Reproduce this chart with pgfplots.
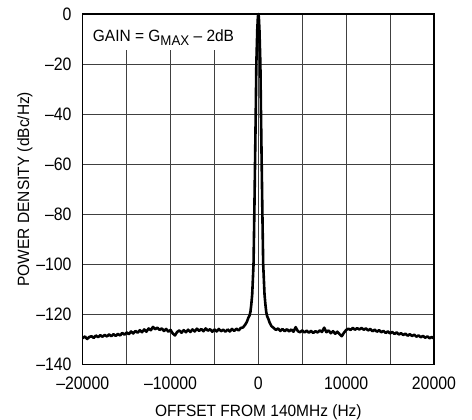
\documentclass[border=0pt]{standalone}
\usepackage{fontspec}
\setmainfont{Liberation Sans}[FakeStretch=0.95]
\newfontfamily\tickfont{Liberation Sans}[FakeStretch=0.88]
\usepackage{pgfplots}
\pgfplotsset{compat=1.18}

\begin{document}
\fontsize{16.3}{19}\selectfont
\begin{tikzpicture}
\path[use as bounding box] (-82.7pt,-55pt) rectangle (389pt,364pt);
\begin{axis}[
    scale only axis,
    width=351pt, height=350pt,
    xmin=-20000, xmax=20000,
    ymin=-140, ymax=0,
    xtick={-20000,-15000,...,20000},
    xticklabels={–20000,,–10000,,0,,10000,,20000},
    ytick={-140,-120,...,0},
    yticklabels={–140,–120,–100,–80,–60,–40,–20,0},
    scaled x ticks=false,
    major tick length=0pt,
    grid=major,
    major grid style={black!75, line width=0.9pt},
    axis line style={black, line width=1.2pt},
    ticklabel style={font=\tickfont\fontsize{18}{20}\selectfont},
    xticklabel style={anchor=base, inner sep=0pt, yshift=-25pt},
    yticklabel style={anchor=east, inner sep=0pt, xshift=-11pt},
    xlabel={OFFSET FROM 140MHz (Hz)},
    ylabel={POWER DENSITY (dBc/Hz)},
    xlabel style={at={(axis description cs:0.5,-0.1506)}, anchor=base, inner sep=0pt},
    ylabel style={at={(axis description cs:-0.1524,0.5)}, anchor=base, inner sep=0pt},
    clip=false,
]
\addplot[black, line width=2.6pt, line join=round] coordinates {
(-20000,-129.6) (-19750,-128.9) (-19500,-129.9) (-19250,-129.1) (-19000,-128.8)
(-18750,-129.5) (-18500,-128.5) (-18250,-129.2) (-18000,-128.4) (-17750,-129.0)
(-17500,-128.3) (-17250,-128.9) (-17000,-128.1) (-16750,-128.8) (-16500,-128.0)
(-16250,-128.7) (-16000,-127.9) (-15750,-128.5) (-15500,-127.5) (-15250,-128.2)
(-15000,-127.3) (-14750,-128.0) (-14500,-126.9) (-14250,-127.7) (-14000,-126.7)
(-13750,-127.4) (-13500,-126.4) (-13250,-127.2) (-13000,-126.1) (-12750,-127.0)
(-12500,-125.7) (-12250,-126.4) (-12000,-125.1) (-11750,-126.0) (-11500,-125.4)
(-11250,-126.3) (-11000,-125.7) (-10750,-126.7) (-10500,-125.9) (-10250,-127.0)
(-10000,-126.3) (-9750,-127.7) (-9500,-128.5) (-9250,-127.1) (-9000,-126.5)
(-8750,-127.4) (-8500,-126.4) (-8250,-127.2) (-8000,-126.2) (-7750,-127.1)
(-7500,-126.1) (-7250,-126.9) (-7000,-125.8) (-6750,-126.7) (-6500,-125.9)
(-6250,-126.8) (-6000,-125.7) (-5750,-126.6) (-5500,-126.0) (-5250,-127.0)
(-5000,-126.1) (-4750,-126.9) (-4500,-125.9) (-4250,-126.8) (-4000,-126.2)
(-3750,-127.0) (-3500,-126.1) (-3250,-126.9) (-3000,-125.9) (-2750,-126.7)
(-2500,-125.8) (-2250,-126.5) (-2000,-125.5) (-1750,-125.3) (-1500,-124.2)
(-1300,-123.0) (-1150,-121.5) (-1000,-120.5) (-900,-119.0) (-800,-116.0)
(-700,-112.0) (-600,-104.0) (-550,-100.0) (-460,-80.0) (-380,-60.0)
(-300,-40.0) (-230,-20.0) (-120,-6.0) (-50,-1.0) (0,0)
(50,-1.0) (120,-6.0) (230,-20.0) (300,-40.0) (380,-60.0)
(460,-80.0) (550,-100.0) (600,-104.0) (700,-112.0) (800,-116.0)
(900,-119.2) (1000,-120.8) (1150,-122.0) (1300,-123.5) (1500,-124.8)
(1750,-125.5) (2000,-126.3) (2250,-125.7) (2500,-126.7) (2750,-125.9)
(3000,-126.8) (3250,-126.0) (3500,-126.9) (3750,-126.1) (4000,-127.0)
(4250,-125.2) (4500,-126.8) (4750,-127.2) (5000,-126.5) (5250,-127.3)
(5500,-126.6) (5750,-127.4) (6000,-126.7) (6250,-127.5) (6500,-126.8)
(6750,-127.3) (7000,-126.5) (7250,-127.1) (7500,-125.4) (7750,-127.2)
(8000,-126.5) (8250,-127.6) (8500,-126.8) (8750,-127.8) (9000,-127.0)
(9250,-128.0) (9500,-128.8) (9750,-127.4) (10000,-126.3) (10250,-125.8)
(10500,-126.3) (10750,-125.5) (11000,-126.2) (11250,-125.6) (11500,-126.1)
(11750,-125.5) (12000,-126.2) (12250,-125.7) (12500,-126.5) (12750,-125.9)
(13000,-126.8) (13250,-126.2) (13500,-127.0) (13750,-126.4) (14000,-127.2)
(14250,-126.7) (14500,-127.5) (14750,-126.9) (15000,-127.7) (15250,-127.1)
(15500,-127.9) (15750,-127.3) (16000,-128.1) (16250,-127.6) (16500,-128.3)
(16750,-127.8) (17000,-128.6) (17250,-128.0) (17500,-128.7) (17750,-128.2)
(18000,-129.0) (18250,-128.5) (18500,-129.2) (18750,-128.7) (19000,-129.4)
(19250,-128.9) (19500,-129.6) (19750,-129.1) (20000,-129.7)
};
\fill[white] (axis cs:-19940,-0.3) rectangle (axis cs:-2000,-14.4);
\node[anchor=base west, inner sep=0pt] at (axis cs:-18870,-10.8)
  {GAIN = G\raisebox{-4.5pt}{\fontsize{14}{14}\selectfont MAX} – 2dB};
\end{axis}
\end{tikzpicture}
\end{document}
